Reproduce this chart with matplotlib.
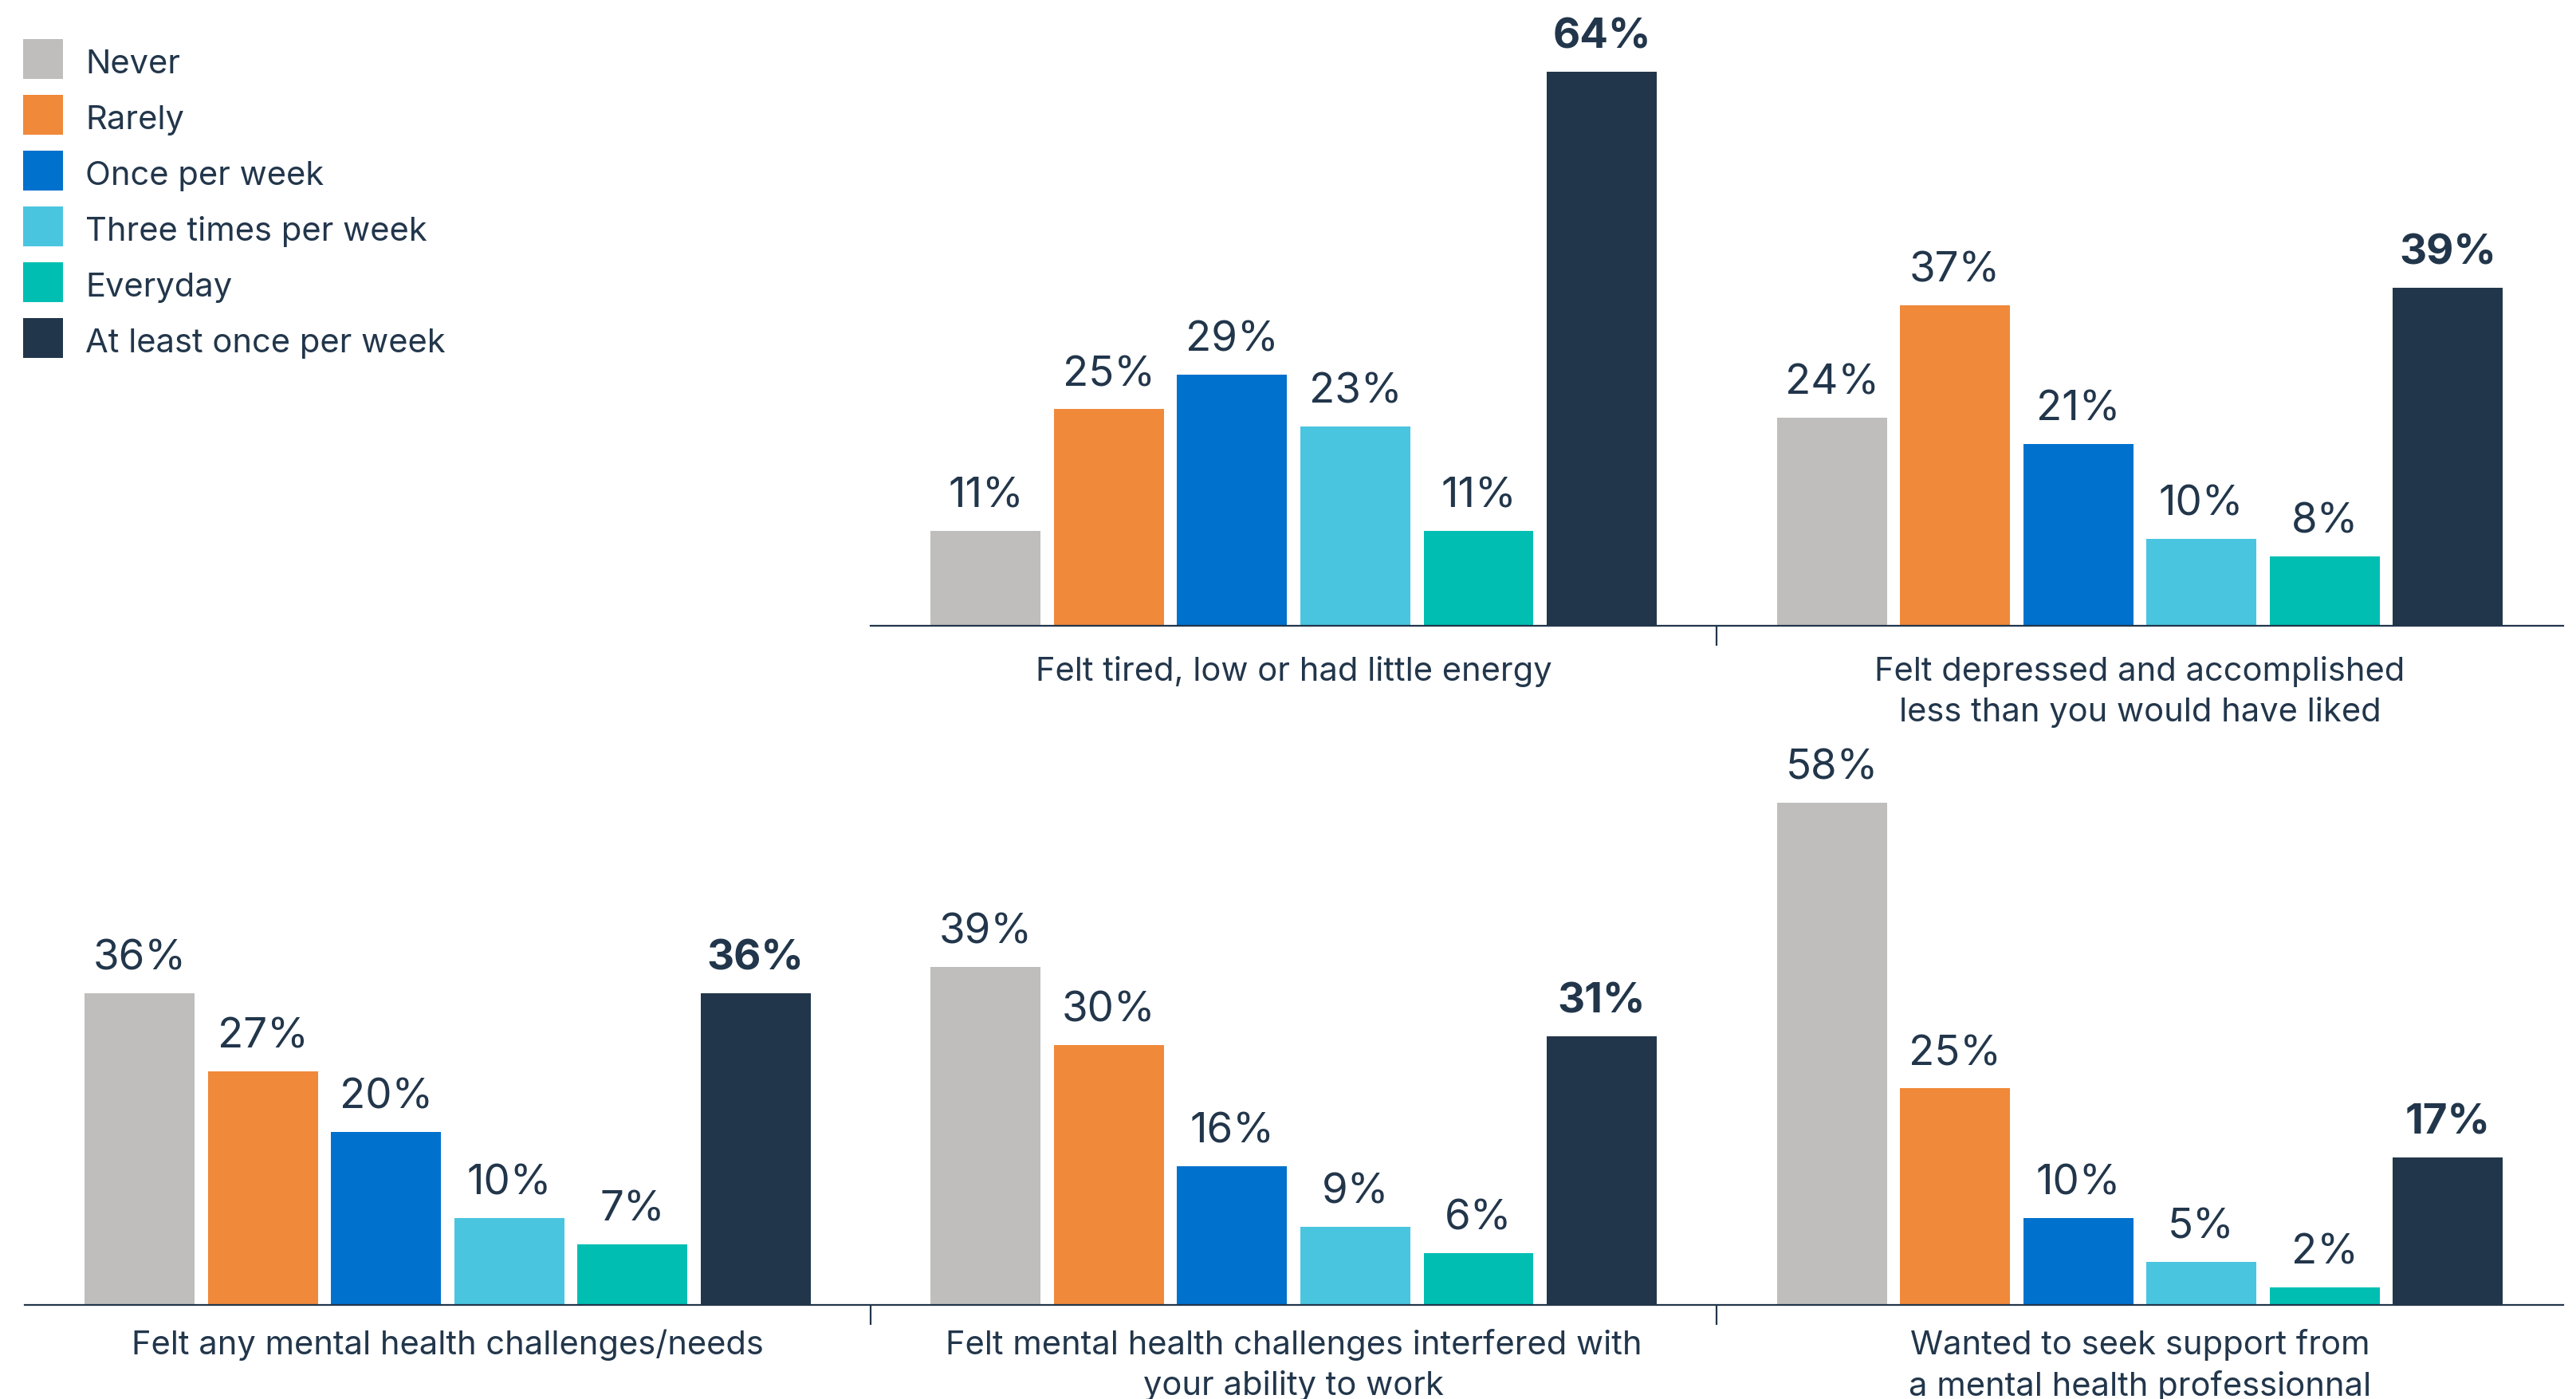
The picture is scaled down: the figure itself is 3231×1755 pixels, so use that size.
import matplotlib
matplotlib.use("Agg")
import matplotlib.pyplot as plt
from matplotlib.patches import Rectangle
import numpy as np

plt.rcParams['font.family'] = ['Inter', 'DejaVu Sans']

series = ["Never", "Rarely", "Once per week", "Three times per week", "Everyday", "At least once per week"]
colors = ["#BFBEBC", "#F0893A", "#0071CD", "#4AC5E0", "#00BFB2", "#22364B"]

top_categories = ["Felt tired, low or had little energy",
                  "Felt depressed and accomplished\nless than you would have liked"]
top_values = [
    [11, 25, 29, 23, 11, 64],
    [24, 37, 21, 10, 8, 39],
]
bottom_categories = ["Felt any mental health challenges/needs",
                     "Felt mental health challenges interfered with\nyour ability to work",
                     "Wanted to seek support from\na mental health professionnal"]
bottom_values = [
    [36, 27, 20, 10, 7, 36],
    [39, 30, 16, 9, 6, 31],
    [58, 25, 10, 5, 2, 17],
]

TXT = "#22364B"
W, H = 3231, 1756
fig = plt.figure(figsize=(W / 100, H / 100), dpi=100)

ax_top = fig.add_axes([530 / 1568, 1 - 786 / H, 1030 / 1568, 0.433])
ax_bot = fig.add_axes([15 / 1568, 1 - 1638 / H, 1545 / 1568, 0.433])
for a in (ax_top, ax_bot):
    a.patch.set_visible(False)

bw = 0.130
step = 0.1456


def draw(ax, cats, vals, pad):
    n = len(cats)
    x = np.arange(n)
    vals = np.array(vals)
    for k in range(len(series)):
        xs = x + (k - 2.5) * step
        ax.bar(xs, vals[:, k], width=bw, color=colors[k], label=series[k], zorder=2)
        for xi, v in zip(xs, vals[:, k]):
            ax.annotate(f"{v}%", (xi, v), xytext=(0, 14), textcoords="offset points",
                        ha="center", va="bottom", fontsize=38, color=TXT,
                        fontweight="bold" if k == 5 else "normal", annotation_clip=False)
    ax.set_xlim(-0.5, n - 0.5)
    ax.set_ylim(0, 70)
    for s in ["top", "left", "right"]:
        ax.spines[s].set_visible(False)
    ax.spines["bottom"].set_color(TXT)
    ax.spines["bottom"].set_linewidth(1.6)
    ax.set_yticks([])
    ax.set_xticks(x)
    ax.set_xticklabels(cats, fontsize=30, color=TXT, linespacing=1.38)
    ax.tick_params(axis="x", which="major", length=0, pad=pad)
    ax.set_xticks(np.arange(n - 1) + 0.5, minor=True)
    ax.tick_params(axis="x", which="minor", length=18, width=1.6, color=TXT, direction="out")


draw(ax_top, top_categories, top_values, pad=27)
draw(ax_bot, bottom_categories, bottom_values, pad=21)

# legend
for i, (name, c) in enumerate(zip(series, colors)):
    y0 = 50 + 70 * i
    fig.patches.append(Rectangle((29 / W, 1 - (y0 + 50) / H), 50 / W, 50 / H,
                                 transform=fig.transFigure, facecolor=c, edgecolor="none"))
    fig.text(107 / W, 1 - (y0 + 42) / H, name, fontsize=30, color=TXT,
             ha="left", va="baseline")

fig.savefig("out.png", dpi=100)
